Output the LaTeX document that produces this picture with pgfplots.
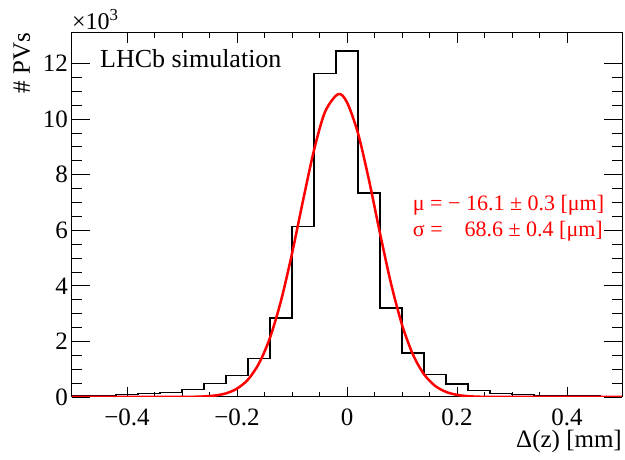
\documentclass[border=0pt]{standalone}
\usepackage{pgfplots}
\pgfplotsset{compat=1.18}
\usepackage{fontspec}
\setmainfont{Liberation Serif}
\begin{document}
\fontsize{25}{30}\selectfont
\begin{tikzpicture}[x=1pt,y=1pt]
\useasboundingbox (-72,-63) rectangle (553,397);
\begin{axis}[
  at={(0pt,0pt)}, anchor=south west,
  scale only axis, width=550pt, height=364pt,
  xmin=-0.5, xmax=0.5, ymin=0, ymax=13.1,
  xtick={-0.4,-0.2,0,0.2,0.4},
  xticklabels={−0.4,−0.2,0,0.2,0.4},
  minor x tick num=3,
  ytick={0,2,4,6,8,10,12},
  yticklabels={0,2,4,6,8,10,12},
  minor y tick num=3,
  scaled ticks=false,
  tick align=inside,
  axis line style={line width=1pt},
  x tick style={black, line width=0.9pt, /pgfplots/major tick length=10pt, /pgfplots/minor tick length=5pt},
  y tick style={black, line width=0.9pt, /pgfplots/major tick length=18pt, /pgfplots/minor tick length=10pt},
  tick label style={font=\fontsize{25}{30}\selectfont},
  xticklabel style={anchor=base, yshift=-29pt, inner sep=0pt},
  yticklabel style={anchor=east, inner sep=0pt, xshift=-4pt},
  clip=true,
]
\addplot[const plot, black, line width=1.6pt] coordinates {
(-0.50,0.04) (-0.46,0.05) (-0.42,0.09) (-0.38,0.12) (-0.34,0.16)
(-0.30,0.27) (-0.26,0.48) (-0.22,0.77) (-0.18,1.38) (-0.14,2.85)
(-0.10,6.13) (-0.06,11.64) (-0.02,12.46) (0.02,7.35) (0.06,3.21)
(0.10,1.59) (0.14,0.81) (0.18,0.46) (0.22,0.24) (0.26,0.12)
(0.30,0.09) (0.34,0.06) (0.38,0.05) (0.42,0.03) (0.46,0.02) (0.50,0.02)
};
\addplot[red, line width=2.5pt, smooth] coordinates {
(-0.50,0) (-0.40,0) (-0.32,0.0005) (-0.30,0.002) (-0.28,0.007) (-0.26,0.020)
(-0.24,0.053) (-0.22,0.131) (-0.20,0.300) (-0.18,0.628) (-0.16,1.208)
(-0.14,2.133) (-0.12,3.461) (-0.10,5.160) (-0.08,7.064) (-0.06,8.881)
(-0.04,10.258) (-0.0161,10.90) (0.00,10.604) (0.02,9.491) (0.04,7.802)
(0.06,5.891) (0.08,4.086) (0.10,2.603) (0.12,1.523) (0.14,0.818)
(0.16,0.404) (0.18,0.183) (0.20,0.076) (0.22,0.029) (0.24,0.010)
(0.26,0.003) (0.28,0.001) (0.32,0) (0.40,0) (0.50,0)
};
\end{axis}
\node[anchor=base west, inner sep=0pt, font=\fontsize{26}{30}\selectfont] at (28,329) {LHCb simulation};
\node[anchor=base west, inner sep=0pt, font=\fontsize{24}{28}\selectfont] at (0,367) {×10\textsuperscript{3}};
\node[rotate=90, anchor=base east, inner sep=0pt] at (-42,364) {\# PVs};
\node[anchor=base east, inner sep=0pt] at (550,-51) {Δ(z) [mm]};
\node[anchor=base west, inner sep=0pt, red, font=\fontsize{22}{26}\selectfont] at (340.7,186) {μ = − 16.1 ± 0.3 [μm]};
\node[anchor=base west, inner sep=0pt, red, font=\fontsize{22}{26}\selectfont] at (340.7,160.3) {σ =};
\node[anchor=base east, inner sep=0pt, red, font=\fontsize{22}{26}\selectfont] at (531,160.3) {68.6 ± 0.4 [μm]};
\end{tikzpicture}
\end{document}
